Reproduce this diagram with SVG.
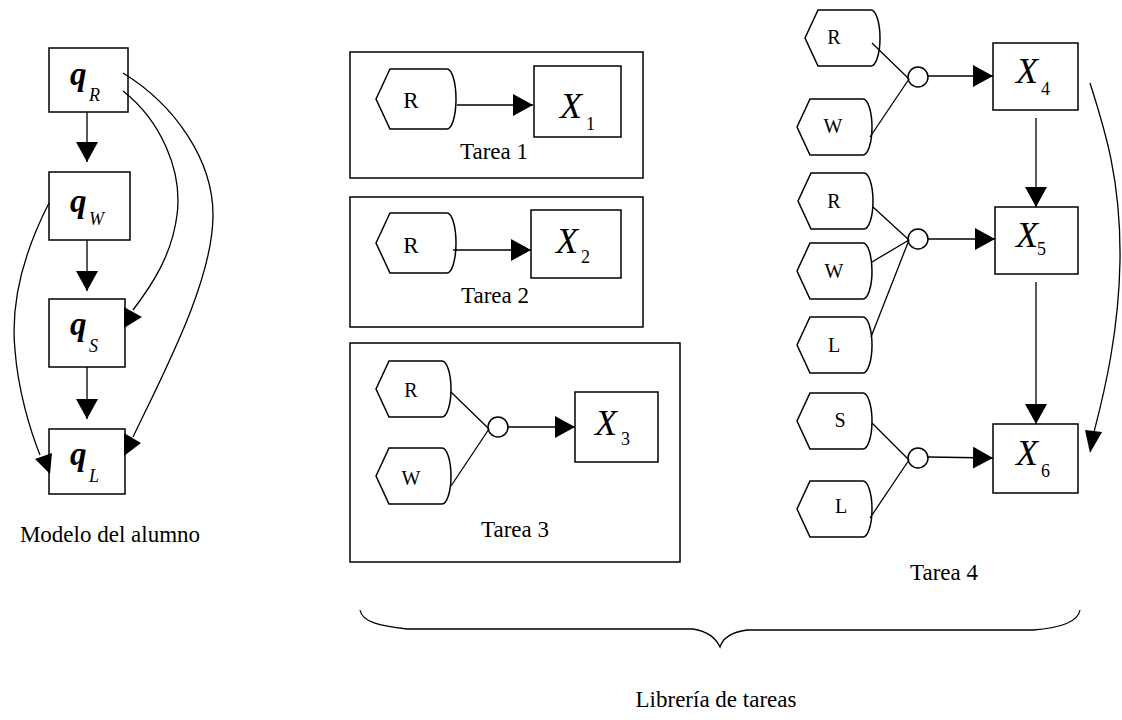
<svg xmlns="http://www.w3.org/2000/svg" xmlns:xlink="http://www.w3.org/1999/xlink" width="1122" height="720" viewBox="0 0 1122 720">
  <style>
    .box { fill: #fff; stroke: #000; stroke-width: 1.5; }
    .frame { fill: none; stroke: #000; stroke-width: 1.5; }
    .ln { fill: none; stroke: #000; stroke-width: 1.3; }
    .head { fill: #000; stroke: none; }
    .txt { font-family: "Liberation Serif", "Times New Roman", serif; fill: #000; }
    .lbl { font-size: 23px; }
    .in { font-size: 20px; }
    .big { font-size: 36px; font-style: italic; }
    .q { font-size: 33px; font-style: italic; font-weight: bold; }
    .sub { font-size: 18px; }
    .subi { font-size: 18px; font-style: italic; }
  </style>
  <defs>
    <marker id="arr" markerUnits="userSpaceOnUse" markerWidth="20" markerHeight="22" refX="20" refY="11" orient="auto">
      <path d="M0,0 L20,11 L0,22 Z" fill="#000"/>
    </marker>
    <path id="hexA" d="M0,30 L14,0 H71 A9,30 0 0 1 71,60 H14 Z" fill="#fff" stroke="#000" stroke-width="1.5"/>
    <path id="hexB" d="M0,28 L13,0 H66 A9,28 0 0 1 66,56 H13 Z" fill="#fff" stroke="#000" stroke-width="1.5"/>
  </defs>

  <!-- student model column -->
  <g id="qR">
    <rect class="box" x="49" y="48" width="79" height="64"/>
    <text class="txt q" x="70" y="85">q</text>
    <text class="txt subi" x="89" y="101">R</text>
  </g>
  <g id="qW">
    <rect class="box" x="49" y="172" width="81" height="68"/>
    <text class="txt q" x="70" y="212">q</text>
    <text class="txt subi" x="89" y="225">W</text>
  </g>
  <g id="qS">
    <rect class="box" x="49" y="299" width="76" height="68"/>
    <text class="txt q" x="70" y="335">q</text>
    <text class="txt subi" x="89" y="352">S</text>
  </g>
  <g id="qL">
    <rect class="box" x="49" y="429" width="76" height="65"/>
    <text class="txt q" x="70" y="465">q</text>
    <text class="txt subi" x="89" y="482">L</text>
  </g>
  <text id="modelo" class="txt lbl" x="110" y="542" text-anchor="middle">Modelo del alumno</text>

  <!-- Tarea 1 -->
  <g id="tarea1">
    <rect class="frame" x="350" y="52" width="293" height="126"/>
    <text class="txt lbl" x="494" y="159" text-anchor="middle">Tarea 1</text>
  </g>
  <g id="t1-R">
    <use xlink:href="#hexA" x="376" y="69"/>
    <text class="txt lbl" x="411" y="108" text-anchor="middle">R</text>
  </g>
  <g id="t1-X1">
    <rect class="box" x="534" y="66" width="87" height="71"/>
    <text class="txt big" x="560" y="118">X</text>
    <text class="txt sub" x="586" y="130">1</text>
  </g>

  <!-- Tarea 2 -->
  <g id="tarea2">
    <rect class="frame" x="350" y="197" width="293" height="130"/>
    <text class="txt lbl" x="495" y="303" text-anchor="middle">Tarea 2</text>
  </g>
  <g id="t2-R">
    <use xlink:href="#hexA" x="376" y="213"/>
    <text class="txt lbl" x="411" y="253" text-anchor="middle">R</text>
  </g>
  <g id="t2-X2">
    <rect class="box" x="531" y="210" width="90" height="68"/>
    <text class="txt big" x="556" y="253">X</text>
    <text class="txt sub" x="581" y="263">2</text>
  </g>

  <!-- Tarea 3 -->
  <g id="tarea3">
    <rect class="frame" x="350" y="343" width="330" height="219"/>
    <text class="txt lbl" x="515" y="537" text-anchor="middle">Tarea 3</text>
  </g>
  <g id="t3-R">
    <use xlink:href="#hexB" x="376" y="361"/>
    <text class="txt in" x="411" y="397" text-anchor="middle">R</text>
  </g>
  <g id="t3-W">
    <use xlink:href="#hexB" x="376" y="448"/>
    <text class="txt in" x="411" y="485" text-anchor="middle">W</text>
  </g>
  <g id="t3-and"><circle class="box" cx="498" cy="427" r="10"/></g>
  <g id="t3-X3">
    <rect class="box" x="575" y="392" width="83" height="70"/>
    <text class="txt big" x="595" y="435">X</text>
    <text class="txt sub" x="621" y="445">3</text>
  </g>

  <!-- Tarea 4 -->
  <g id="t4-R1">
    <use xlink:href="#hexB" x="805" y="10"/>
    <text class="txt in" x="834" y="44" text-anchor="middle">R</text>
  </g>
  <g id="t4-W1">
    <use xlink:href="#hexB" x="797" y="99"/>
    <text class="txt in" x="833" y="133" text-anchor="middle">W</text>
  </g>
  <g id="t4-and1"><circle class="box" cx="918" cy="77" r="10"/></g>
  <g id="t4-X4">
    <rect class="box" x="993" y="43" width="85" height="67"/>
    <text class="txt big" x="1016" y="83">X</text>
    <text class="txt sub" x="1041" y="95">4</text>
  </g>

  <g id="t4-R2">
    <use xlink:href="#hexB" x="798" y="173"/>
    <text class="txt in" x="834" y="208" text-anchor="middle">R</text>
  </g>
  <g id="t4-W2">
    <use xlink:href="#hexB" x="797" y="243"/>
    <text class="txt in" x="834" y="278" text-anchor="middle">W</text>
  </g>
  <g id="t4-L1">
    <use xlink:href="#hexB" x="797" y="317"/>
    <text class="txt in" x="834" y="352" text-anchor="middle">L</text>
  </g>
  <g id="t4-and2"><circle class="box" cx="918" cy="239" r="10"/></g>
  <g id="t4-X5">
    <rect class="box" x="995" y="207" width="83" height="67"/>
    <text class="txt big" x="1016" y="247">X</text>
    <text class="txt sub" x="1037" y="255">5</text>
  </g>

  <g id="t4-S">
    <use xlink:href="#hexB" x="797" y="393"/>
    <text class="txt in" x="840" y="427" text-anchor="middle">S</text>
  </g>
  <g id="t4-L2">
    <use xlink:href="#hexB" x="797" y="481"/>
    <text class="txt in" x="841" y="513" text-anchor="middle">L</text>
  </g>
  <g id="t4-and3"><circle class="box" cx="918" cy="458" r="10"/></g>
  <g id="t4-X6">
    <rect class="box" x="993" y="424" width="85" height="69"/>
    <text class="txt big" x="1016" y="465">X</text>
    <text class="txt sub" x="1041" y="477">6</text>
  </g>
  <text id="tarea4" class="txt lbl" x="944" y="580" text-anchor="middle">Tarea 4</text>

  <!-- library brace and caption -->
  <g id="libreria">
    <path class="ln" d="M360,610 C362,622 380,626 407,629 H693 C705,631 715,636 720,647 C723,637 733,632 747,630 H1033 C1060,628 1078,622 1080,610"/>
    <text class="txt lbl" x="716" y="707" text-anchor="middle">Librería de tareas</text>
  </g>

  <g id="connectors">
    <!-- student model -->
    <line class="ln" x1="87" y1="112" x2="87" y2="162" marker-end="url(#arr)"/>
    <line class="ln" x1="87" y1="240" x2="87" y2="291" marker-end="url(#arr)"/>
    <line class="ln" x1="87" y1="367" x2="87" y2="419" marker-end="url(#arr)"/>
    <path class="ln" d="M123,91 C160,120 183,170 177,215 C172,255 152,285 133,310"/>
    <polygon class="head" points="124,307 142,317 124,328"/>
    <path class="ln" d="M123,73 C175,105 213,160 213,215 C213,280 165,370 133,437"/>
    <polygon class="head" points="124,433 141,443 124,456"/>
    <path class="ln" d="M49,203 C25,250 10,300 15,350 C18,390 30,430 40,455"/>
    <polygon class="head" points="35,459 52,453 50,474"/>

    <!-- Tarea 1 and 2 -->
    <line class="ln" x1="457" y1="105" x2="533" y2="105" marker-end="url(#arr)"/>
    <line class="ln" x1="453" y1="250" x2="531" y2="250" marker-end="url(#arr)"/>

    <!-- Tarea 3 -->
    <line class="ln" x1="451" y1="392" x2="489" y2="429"/>
    <line class="ln" x1="451" y1="486" x2="489" y2="429"/>
    <line class="ln" x1="508" y1="427" x2="575" y2="427" marker-end="url(#arr)"/>

    <!-- Tarea 4 -->
    <line class="ln" x1="872" y1="43" x2="909" y2="79"/>
    <line class="ln" x1="870" y1="137" x2="909" y2="79"/>
    <line class="ln" x1="928" y1="76" x2="993" y2="76" marker-end="url(#arr)"/>
    <line class="ln" x1="873" y1="207" x2="909" y2="240"/>
    <line class="ln" x1="872" y1="262" x2="909" y2="240"/>
    <line class="ln" x1="871" y1="337" x2="909" y2="240"/>
    <line class="ln" x1="928" y1="239" x2="995" y2="239" marker-end="url(#arr)"/>
    <line class="ln" x1="872" y1="423" x2="909" y2="460"/>
    <line class="ln" x1="870" y1="518" x2="909" y2="460"/>
    <line class="ln" x1="928" y1="457" x2="993" y2="458" marker-end="url(#arr)"/>
    <line class="ln" x1="1036" y1="118" x2="1036" y2="207" marker-end="url(#arr)"/>
    <line class="ln" x1="1036" y1="282" x2="1036" y2="424" marker-end="url(#arr)"/>
    <path class="ln" d="M1090,83 C1105,130 1121,180 1120,260 C1119,330 1105,390 1094,432"/>
    <polygon class="head" points="1085,430 1102,432 1090,453"/>
  </g>
</svg>
